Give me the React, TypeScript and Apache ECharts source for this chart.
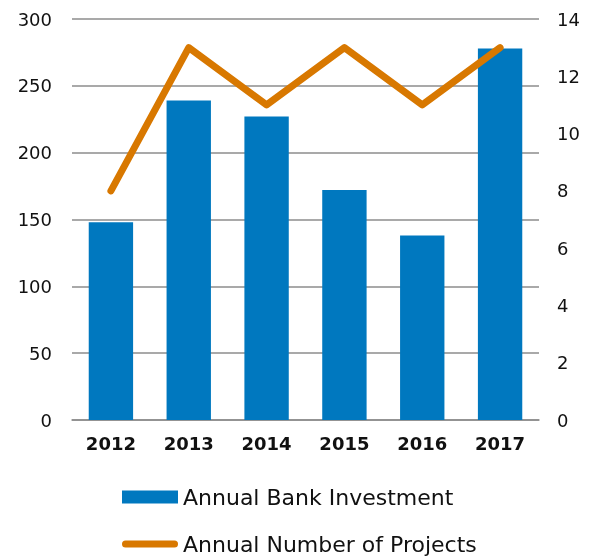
import React, { useEffect, useRef } from "react";
import * as echarts from "echarts";

const categories = ["2012", "2013", "2014", "2015", "2016", "2017"];
const investment = [148, 239, 227, 172, 138, 278];
const projects = [8, 13, 11, 13, 11, 13];

export default function App() {
  const ref = useRef<HTMLDivElement>(null);
  useEffect(() => {
    if (!ref.current) return;
    const chart = echarts.init(ref.current, null, { renderer: "svg" });
    chart.setOption({
      animation: false,
      grid: { left: 72, right: 54, top: 19, bottom: 137 },
      xAxis: {
        type: "category",
        data: categories,
        axisTick: { show: false },
        axisLine: { lineStyle: { color: "#8c8c8c", width: 1.5 } },
        axisLabel: {
          margin: 14,
          fontFamily: "DejaVu Sans",
          fontWeight: "bold",
          fontSize: 18,
          color: "#111",
        },
      },
      yAxis: [
        {
          type: "value",
          min: 0,
          max: 300,
          interval: 50,
          axisLine: { show: false },
          axisTick: { show: false },
          splitLine: { lineStyle: { color: "#8c8c8c", width: 1.5 } },
          axisLabel: { margin: 20, fontFamily: "DejaVu Sans", fontSize: 18, color: "#111" },
        },
        {
          type: "value",
          min: 0,
          max: 14,
          interval: 2,
          position: "right",
          axisLine: { show: false },
          axisTick: { show: false },
          splitLine: { show: false },
          axisLabel: { margin: 18, fontFamily: "DejaVu Sans", fontSize: 18, color: "#111" },
        },
      ],
      legend: {
        orient: "vertical",
        left: 122,
        top: 486,
        height: 71,
        padding: 0,
        itemWidth: 56,
        itemHeight: 13,
        itemGap: 25,
        textStyle: { fontFamily: "DejaVu Sans", fontSize: 22, color: "#111", lineHeight: 22 },
        data: [
          { name: "Annual Bank Investment", icon: "rect" },
          {
            name: "Annual Number of Projects",
            icon: "path://M3.5,0 h49 a3.5,3.5 0 0 1 0,7 h-49 a3.5,3.5 0 0 1 0,-7 z",
          },
        ],
      },
      series: [
        {
          name: "Annual Bank Investment",
          type: "bar",
          data: investment,
          barWidth: "57%",
          itemStyle: { color: "#0078BF" },
        },
        {
          name: "Annual Number of Projects",
          type: "line",
          yAxisIndex: 1,
          data: projects,
          symbol: "none",
          lineStyle: { color: "#D87800", width: 7, cap: "round", join: "round" },
          itemStyle: { color: "#D87800" },
        },
      ],
    });
    return () => chart.dispose();
  }, []);
  return (
    <div
      ref={ref}
      style={{ position: "fixed", left: 0, top: 0, width: 593, height: 557 }}
    />
  );
}
